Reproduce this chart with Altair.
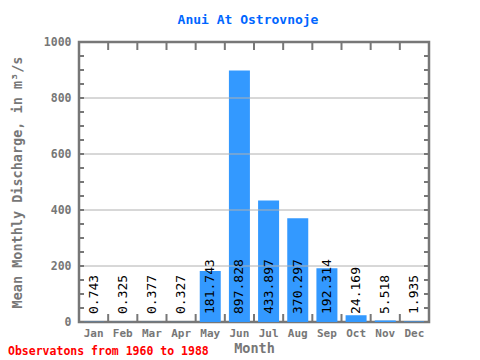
import altair as alt
import pandas as pd

months = ["Jan", "Feb", "Mar", "Apr", "May", "Jun", "Jul", "Aug", "Sep", "Oct", "Nov", "Dec"]
values = [0.743, 0.325, 0.377, 0.327, 181.743, 897.828, 433.897, 370.297, 192.314, 24.169, 5.518, 1.935]
labels = ["0.743", "0.325", "0.377", "0.327", "181.743", "897.828", "433.897", "370.297", "192.314", "24.169", "5.518", "1.935"]
y_label_values = [0, 200, 400, 600, 800, 1000]
y_minor_ticks = list(range(0, 1001, 50))
grid_values = [200, 400, 600, 800]
month_boundaries = list(range(1, 12))

W, H = 350, 280
FONT = "DejaVu Sans Mono"
GRAY = "#777777"

df = pd.DataFrame({"month": months, "value": values, "label": labels})
ticks_df = pd.DataFrame({"value": y_minor_ticks})
grid_df = pd.DataFrame({"value": grid_values})
bound_df = pd.DataFrame({"b": month_boundaries})

xscale = alt.Scale(domain=months, paddingInner=0.28, paddingOuter=0.14)
yscale = alt.Scale(domain=[0, 1000], nice=False)

yaxis = alt.Axis(title="Mean Monthly Discharge, in  m³/s", values=y_label_values, format="d", ticks=False,
                 grid=False, domain=False, labelFont=FONT, labelFontWeight="bold",
                 labelFontSize=11.5, labelColor=GRAY, labelPadding=8,
                 titleFont=FONT, titleFontSize=13.5, titleFontWeight="bold",
                 titleColor=GRAY, titlePadding=19)
Y = alt.Y("value:Q", scale=yscale, axis=yaxis)

bars = alt.Chart(df).mark_bar(color="#3399ff").encode(
    x=alt.X("month:N", sort=months, scale=xscale,
            axis=alt.Axis(title="Month", ticks=False, domain=False, labelAngle=0,
                          labelFont=FONT, labelFontWeight="bold", labelFontSize=11, labelColor=GRAY,
                          labelPadding=5, titleFont=FONT, titleFontSize=13.5, titleFontWeight="bold",
                          titleColor=GRAY, titlePadding=3)),
    y=Y,
)

grid = alt.Chart(grid_df).mark_rule(color="#b0b0b0", strokeWidth=1).encode(
    y=Y, x=alt.value(0), x2=alt.value(W),
)

left_ticks = alt.Chart(ticks_df).mark_rule(color=GRAY, strokeWidth=2).encode(
    y=Y, x=alt.value(0), x2=alt.value(5))
right_ticks = alt.Chart(ticks_df).mark_rule(color=GRAY, strokeWidth=2).encode(
    y=Y, x=alt.value(W - 5), x2=alt.value(W))

bscale = alt.Scale(domain=[0, 12], nice=False, zero=False)
top_ticks = alt.Chart(bound_df).mark_rule(color=GRAY, strokeWidth=2).encode(
    x=alt.X("b:Q", scale=bscale, axis=None), y=alt.value(0), y2=alt.value(8))
bottom_ticks = alt.Chart(bound_df).mark_rule(color=GRAY, strokeWidth=2).encode(
    x=alt.X("b:Q", scale=bscale, axis=None), y=alt.value(H - 8), y2=alt.value(H))

text = alt.Chart(df).mark_text(angle=270, align="left", baseline="middle", dx=8,
                               font=FONT, fontSize=13, color="black").encode(
    x=alt.X("month:N", sort=months, scale=xscale, axis=None),
    y=alt.datum(0, scale=yscale),
    text="label:N",
)

foot = alt.Chart(pd.DataFrame({"t": ["Observatons from 1960 to 1988"]})).mark_text(
    align="left", baseline="middle", font=FONT, fontSize=11.5, fontWeight="bold", color="#ff0000"
).encode(x=alt.value(-71), y=alt.value(H + 30), text="t:N")

chart = alt.layer(bars, grid, left_ticks, right_ticks, top_ticks, bottom_ticks, text, foot).resolve_scale(
    x="independent"
).properties(
    width=W, height=H,
    title=alt.TitleParams("Anui At Ostrovnoje", font=FONT, fontSize=13, fontWeight="bold",
                          color="#0066ff", anchor="middle", offset=9, dx=-6),
    autosize=alt.AutoSizeParams(type="none"),
    padding={"left": 71, "top": 34, "right": 43, "bottom": 36},
).configure_view(stroke=GRAY, strokeWidth=2.5)

chart.save("out.html", embed_options={"renderer": "svg", "actions": False})
